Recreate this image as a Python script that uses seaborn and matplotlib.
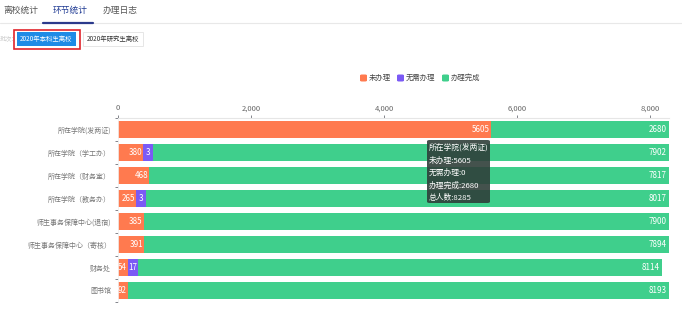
import matplotlib
matplotlib.use("Agg")
import matplotlib.pyplot as plt
from matplotlib.patches import Rectangle, FancyBboxPatch
import numpy as np
import pandas as pd
import seaborn as sns

categories = ["所在学院(发两证)", "所在学院（学工办）", "所在学院（财务室）", "所在学院（教务办）",
              "师生事务保障中心(退宿)", "师生事务保障中心（寄核）", "财务处", "图书馆"]
not_done = [5605, 380, 468, 265, 385, 391, 54, 92]
no_need = [0, 3, 0, 3, 0, 0, 17, 0]
done = [2680, 7902, 7817, 8017, 7900, 7894, 8114, 8193]
series_names = ["未办理", "无需办理", "办理完成"]
x_ticks = [0, 2000, 4000, 6000, 8000]
tabs = ["离校统计", "环节统计", "办理日志"]
buttons = ["2020年本科生离校", "2020年研究生离校"]
tooltip_lines = ["所在学院(发两证)", "未办理:5605", "无需办理:0", "办理完成:2680", "总人数:8285"]

C_ORANGE = "#FF7A4F"
C_PURPLE = "#7B5AF5"
C_GREEN = "#3FCF8C"
MIN_W = 150  # minimum visible segment length (like echarts barMinHeight)

sns.set_theme(style="white")
plt.rcParams["font.family"] = ["Noto Sans CJK SC", "DejaVu Sans"]

W, H = 682, 310
fig = plt.figure(figsize=(W / 100, H / 100), dpi=100)


def fx(x):
    return x / W


def fy(y):
    return 1 - y / H


df = pd.DataFrame({"cat": categories, "not_done": not_done, "no_need": no_need, "done": done})
df["total"] = df["not_done"] + df["no_need"] + df["done"]
disp_o = np.where(df["not_done"] > 0, np.maximum(df["not_done"], MIN_W), 0)
disp_p = np.where(df["no_need"] > 0, np.maximum(df["no_need"], MIN_W), 0)
df["layer_o"] = disp_o
df["layer_op"] = disp_o + disp_p

x0, x1, y0, y1 = 118, 669, 118, 302
ax = fig.add_axes([fx(x0), fy(y1), fx(x1) - fx(x0), fy(y0) - fy(y1)])
bw = 0.7
sns.barplot(data=df, y="cat", x="total", color=C_GREEN, saturation=1, width=bw, orient="h", ax=ax)
sns.barplot(data=df, y="cat", x="layer_op", color=C_PURPLE, saturation=1, width=bw, orient="h", ax=ax)
sns.barplot(data=df, y="cat", x="layer_o", color=C_ORANGE, saturation=1, width=bw, orient="h", ax=ax)
for p in ax.patches:
    p.set_linewidth(0)

ax.set_xlim(0, 8285)
ax.set_ylim(len(categories) - 0.5, -0.5)
ax.set_xlabel("")
ax.set_ylabel("")
ax.xaxis.tick_top()
ax.set_xticks(x_ticks)
ax.set_xticklabels([f"{v:,}" for v in x_ticks], fontsize=5.5, color="#666666")
ax.tick_params(axis="x", length=2, width=0.6, color="#6E7079", pad=2, top=True, bottom=False)
ax.set_yticks(range(len(categories)))
ax.set_yticklabels(categories, fontsize=5, color="#777777")
ax.tick_params(axis="y", length=0, pad=5)
ax.set_yticks(np.arange(-0.5, len(categories), 1), minor=True)
ax.tick_params(axis="y", which="minor", length=2, width=0.6, color="#6E7079", left=True)
for s in ["right", "bottom"]:
    ax.spines[s].set_visible(False)
ax.spines["top"].set_color("#E6E6E6")
ax.spines["top"].set_linewidth(0.8)
ax.spines["left"].set_color("#F0F0F0")
ax.spines["left"].set_linewidth(0.6)

# value labels
for i, row in df.iterrows():
    lo = row["layer_o"]
    lop = row["layer_op"]
    if row["not_done"] > 0:
        ax.text(lo - 15, i, str(row["not_done"]), ha="right", va="center", color="white", fontsize=5.8)
    if row["no_need"] > 0:
        ax.text((lo + lop) / 2, i, str(row["no_need"]), ha="center", va="center", color="white", fontsize=5.8)
    ax.text(row["total"] - 40, i, str(row["done"]), ha="right", va="center", color="white", fontsize=5.8)

# top tabs
fig.add_artist(plt.Line2D([0, 1], [fy(23), fy(23)], color="#E8E8E8", lw=0.8))
tab_x = [3, 53, 103]
for t, x in zip(tabs, tab_x):
    fig.text(fx(x), fy(10), t, fontsize=6.3, va="center", ha="left",
             color="#1F3A93" if t == "环节统计" else "#555555")
fig.add_artist(plt.Line2D([fx(43), fx(93)], [fy(22.5), fy(22.5)], color="#2B3A8C", lw=1.6))

# batch buttons
fig.text(fx(0), fy(39), "批次:", fontsize=4.5, va="center", ha="left", color="#C8C8C8")
fig.add_artist(Rectangle((fx(14), fy(49)), fx(66), fy(30) - fy(49), facecolor="none",
                         edgecolor="#E0242B", lw=1.2))
fig.add_artist(Rectangle((fx(17), fy(46)), fx(59), fy(32) - fy(46), facecolor="#1E8BE6",
                         edgecolor="none"))
fig.text(fx(46.5), fy(39), buttons[0], fontsize=4.6, va="center", ha="center", color="white")
fig.add_artist(Rectangle((fx(83), fy(46)), fx(60), fy(32) - fy(46), facecolor="white",
                         edgecolor="#E2E2E2", lw=0.6))
fig.text(fx(113), fy(39), buttons[1], fontsize=4.6, va="center", ha="center", color="#333333")

# legend
leg_items = [(360, C_ORANGE), (397, C_PURPLE), (442, C_GREEN)]
for (lx, c), name in zip(leg_items, series_names):
    fig.add_artist(FancyBboxPatch((fx(lx), fy(81.5)), fx(7), fy(74.5) - fy(81.5),
                                  boxstyle="round,pad=0,rounding_size=0.003",
                                  facecolor=c, edgecolor="none"))
    fig.text(fx(lx + 9), fy(78), name, fontsize=5.3, va="center", ha="left", color="#444444")

# tooltip
fig.add_artist(FancyBboxPatch((fx(427), fy(203)), fx(63), fy(140) - fy(203),
                              boxstyle="round,pad=0,rounding_size=0.004",
                              facecolor="#2F3F3A", alpha=0.9, edgecolor="none"))
for k, line in enumerate(tooltip_lines):
    fig.text(fx(429), fy(148 + k * 12.5), line, fontsize=5.6, va="center", ha="left", color="white")

fig.savefig("out.png", dpi=100)
